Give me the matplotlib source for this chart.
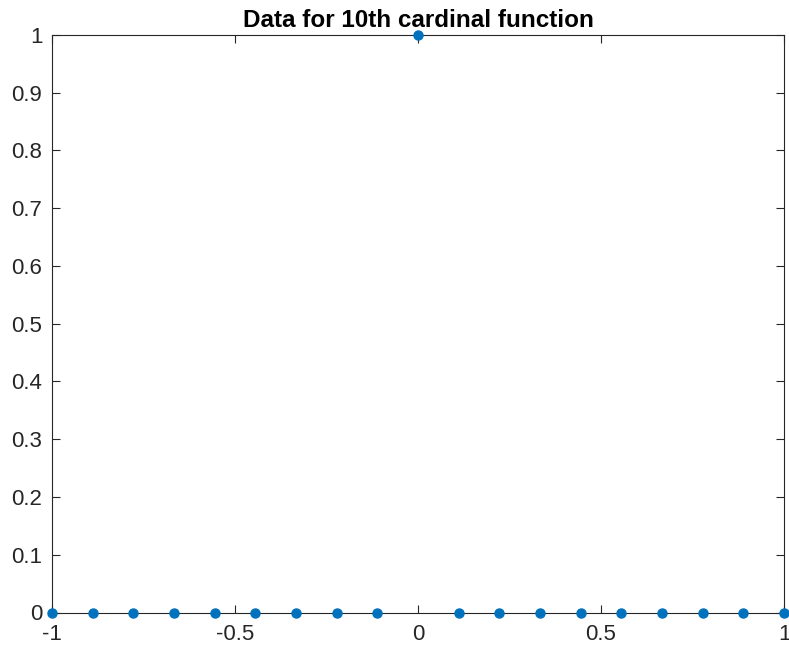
import matplotlib
matplotlib.use("Agg")
import matplotlib.pyplot as plt

# Sample nodes on [-1, 1] and the cardinal data (1 at the 10th node, 0 elsewhere)
x_nodes = [-1.0, -0.8889, -0.7778, -0.6667, -0.5556, -0.4444, -0.3333, -0.2222, -0.1111,
           0.0, 0.1111, 0.2222, 0.3333, 0.4444, 0.5556, 0.6667, 0.7778, 0.8889, 1.0]
y_values = [0, 0, 0, 0, 0, 0, 0, 0, 0, 1, 0, 0, 0, 0, 0, 0, 0, 0, 0]
x_ticks = [-1, -0.5, 0, 0.5, 1]
x_tick_labels = ["-1", "-0.5", "0", "0.5", "1"]
y_ticks = [0, 0.1, 0.2, 0.3, 0.4, 0.5, 0.6, 0.7, 0.8, 0.9, 1]
y_tick_labels = ["0", "0.1", "0.2", "0.3", "0.4", "0.5", "0.6", "0.7", "0.8", "0.9", "1"]
title = "Data for 10th cardinal function"

plt.rcParams["font.family"] = ["Liberation Sans", "DejaVu Sans"]
W, H = 789, 652
fig = plt.figure(figsize=(W / 100, H / 100), dpi=100)
ax = fig.add_axes([52 / W, (H - 612.5) / H, (784 - 52) / W, (612.5 - 35) / H])

ax.plot(x_nodes, y_values, linestyle="none", marker="o", markersize=6.5,
        color="#0072BD", clip_on=False, zorder=5)

ax.set_xlim(-1, 1)
ax.set_ylim(0, 1)
ax.set_xticks(x_ticks)
ax.set_xticklabels(x_tick_labels)
ax.set_yticks(y_ticks)
ax.set_yticklabels(y_tick_labels)

axis_color = "#262626"
for s in ax.spines.values():
    s.set_color(axis_color)
    s.set_linewidth(0.8)
ax.tick_params(direction="in", length=6, width=0.8, color=axis_color,
               labelcolor=axis_color, labelsize=16, top=True, right=True)
ax.tick_params(axis="x", pad=8)
ax.tick_params(axis="y", pad=7)

ax.set_title(title, fontsize=17.5, fontweight="bold", color="black", pad=5.5)

fig.savefig("out.png", dpi=100)
